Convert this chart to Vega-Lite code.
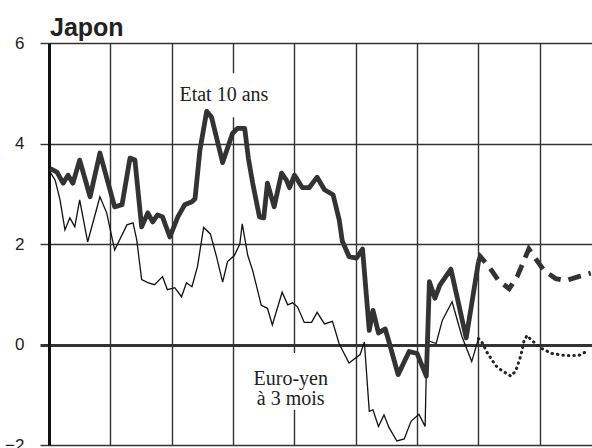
{
  "$schema": "https://vega.github.io/schema/vega-lite/v6.json",
  "width": 543,
  "height": 402,
  "autosize": {"type": "none"},
  "padding": {"left": 49, "top": 43, "right": 0, "bottom": 3},
  "background": "white",
  "title": {"text": "Japon", "anchor": "start", "frame": "group", "font": "Liberation Sans", "fontSize": 25, "fontWeight": "bold", "color": "#222", "offset": -7, "dx": 1},
  "config": {"view": {"stroke": null}},
  "datasets": {
    "series": [
      {"s": "e10", "t": 0.02, "v": 3.5}, {"s": "e10", "t": 0.13, "v": 3.43}, {"s": "e10", "t": 0.23, "v": 3.21}, {"s": "e10", "t": 0.31, "v": 3.37},
      {"s": "e10", "t": 0.39, "v": 3.21}, {"s": "e10", "t": 0.5, "v": 3.67}, {"s": "e10", "t": 0.67, "v": 2.94}, {"s": "e10", "t": 0.83, "v": 3.81},
      {"s": "e10", "t": 1.07, "v": 2.74}, {"s": "e10", "t": 1.19, "v": 2.78}, {"s": "e10", "t": 1.32, "v": 3.71}, {"s": "e10", "t": 1.4, "v": 3.67},
      {"s": "e10", "t": 1.51, "v": 2.34}, {"s": "e10", "t": 1.61, "v": 2.62}, {"s": "e10", "t": 1.69, "v": 2.44}, {"s": "e10", "t": 1.77, "v": 2.58},
      {"s": "e10", "t": 1.85, "v": 2.54}, {"s": "e10", "t": 1.97, "v": 2.14}, {"s": "e10", "t": 2.1, "v": 2.54}, {"s": "e10", "t": 2.21, "v": 2.78},
      {"s": "e10", "t": 2.33, "v": 2.84}, {"s": "e10", "t": 2.38, "v": 2.9}, {"s": "e10", "t": 2.46, "v": 3.87}, {"s": "e10", "t": 2.57, "v": 4.64},
      {"s": "e10", "t": 2.65, "v": 4.52}, {"s": "e10", "t": 2.83, "v": 3.62}, {"s": "e10", "t": 2.99, "v": 4.2}, {"s": "e10", "t": 3.07, "v": 4.3},
      {"s": "e10", "t": 3.19, "v": 4.3}, {"s": "e10", "t": 3.25, "v": 3.7}, {"s": "e10", "t": 3.32, "v": 3.21}, {"s": "e10", "t": 3.43, "v": 2.54},
      {"s": "e10", "t": 3.5, "v": 2.52}, {"s": "e10", "t": 3.56, "v": 3.21}, {"s": "e10", "t": 3.67, "v": 2.74}, {"s": "e10", "t": 3.79, "v": 3.41},
      {"s": "e10", "t": 3.87, "v": 3.27}, {"s": "e10", "t": 3.92, "v": 3.12}, {"s": "e10", "t": 4.0, "v": 3.37}, {"s": "e10", "t": 4.13, "v": 3.12},
      {"s": "e10", "t": 4.24, "v": 3.12}, {"s": "e10", "t": 4.37, "v": 3.33}, {"s": "e10", "t": 4.49, "v": 3.08}, {"s": "e10", "t": 4.63, "v": 2.98},
      {"s": "e10", "t": 4.73, "v": 2.48}, {"s": "e10", "t": 4.78, "v": 2.06}, {"s": "e10", "t": 4.89, "v": 1.75}, {"s": "e10", "t": 5.01, "v": 1.72},
      {"s": "e10", "t": 5.11, "v": 1.9}, {"s": "e10", "t": 5.22, "v": 0.28}, {"s": "e10", "t": 5.28, "v": 0.68}, {"s": "e10", "t": 5.37, "v": 0.23},
      {"s": "e10", "t": 5.48, "v": 0.31}, {"s": "e10", "t": 5.54, "v": 0.06}, {"s": "e10", "t": 5.69, "v": -0.6}, {"s": "e10", "t": 5.87, "v": -0.14},
      {"s": "e10", "t": 6.0, "v": -0.18}, {"s": "e10", "t": 6.15, "v": -0.63}, {"s": "e10", "t": 6.2, "v": 1.25}, {"s": "e10", "t": 6.29, "v": 0.92},
      {"s": "e10", "t": 6.37, "v": 1.18}, {"s": "e10", "t": 6.55, "v": 1.5}, {"s": "e10", "t": 6.8, "v": 0.13}, {"s": "e10", "t": 7.0, "v": 1.65},

      {"s": "e10f", "t": 7.0, "v": 1.65}, {"s": "e10f", "t": 7.03, "v": 1.75}, {"s": "e10f", "t": 7.17, "v": 1.55}, {"s": "e10f", "t": 7.33, "v": 1.27},
      {"s": "e10f", "t": 7.5, "v": 1.11}, {"s": "e10f", "t": 7.63, "v": 1.35}, {"s": "e10f", "t": 7.82, "v": 1.9}, {"s": "e10f", "t": 7.93, "v": 1.71},
      {"s": "e10f", "t": 8.07, "v": 1.47}, {"s": "e10f", "t": 8.26, "v": 1.31}, {"s": "e10f", "t": 8.42, "v": 1.27}, {"s": "e10f", "t": 8.63, "v": 1.35},
      {"s": "e10f", "t": 8.83, "v": 1.42},

      {"s": "ey", "t": 0.02, "v": 3.43}, {"s": "ey", "t": 0.1, "v": 3.27}, {"s": "ey", "t": 0.18, "v": 2.88}, {"s": "ey", "t": 0.26, "v": 2.28},
      {"s": "ey", "t": 0.34, "v": 2.52}, {"s": "ey", "t": 0.42, "v": 2.34}, {"s": "ey", "t": 0.5, "v": 2.88}, {"s": "ey", "t": 0.63, "v": 2.04},
      {"s": "ey", "t": 0.83, "v": 2.94}, {"s": "ey", "t": 0.94, "v": 2.62}, {"s": "ey", "t": 1.07, "v": 1.88}, {"s": "ey", "t": 1.27, "v": 2.38},
      {"s": "ey", "t": 1.37, "v": 2.42}, {"s": "ey", "t": 1.43, "v": 2.08}, {"s": "ey", "t": 1.51, "v": 1.29}, {"s": "ey", "t": 1.61, "v": 1.23},
      {"s": "ey", "t": 1.72, "v": 1.19}, {"s": "ey", "t": 1.85, "v": 1.35}, {"s": "ey", "t": 1.93, "v": 1.09}, {"s": "ey", "t": 2.05, "v": 1.13},
      {"s": "ey", "t": 2.16, "v": 0.95}, {"s": "ey", "t": 2.24, "v": 1.23}, {"s": "ey", "t": 2.33, "v": 1.15}, {"s": "ey", "t": 2.42, "v": 1.55},
      {"s": "ey", "t": 2.52, "v": 2.33}, {"s": "ey", "t": 2.63, "v": 2.2}, {"s": "ey", "t": 2.73, "v": 1.75}, {"s": "ey", "t": 2.83, "v": 1.24},
      {"s": "ey", "t": 2.91, "v": 1.65}, {"s": "ey", "t": 3.02, "v": 1.77}, {"s": "ey", "t": 3.11, "v": 2.0}, {"s": "ey", "t": 3.15, "v": 2.4},
      {"s": "ey", "t": 3.24, "v": 1.77}, {"s": "ey", "t": 3.32, "v": 1.47}, {"s": "ey", "t": 3.46, "v": 0.78}, {"s": "ey", "t": 3.56, "v": 0.72},
      {"s": "ey", "t": 3.64, "v": 0.39}, {"s": "ey", "t": 3.8, "v": 1.04}, {"s": "ey", "t": 3.89, "v": 0.79}, {"s": "ey", "t": 3.97, "v": 0.83},
      {"s": "ey", "t": 4.05, "v": 0.75}, {"s": "ey", "t": 4.16, "v": 0.44}, {"s": "ey", "t": 4.28, "v": 0.44}, {"s": "ey", "t": 4.37, "v": 0.64},
      {"s": "ey", "t": 4.49, "v": 0.41}, {"s": "ey", "t": 4.62, "v": 0.46}, {"s": "ey", "t": 4.73, "v": 0.01}, {"s": "ey", "t": 4.89, "v": -0.37},
      {"s": "ey", "t": 5.07, "v": -0.2}, {"s": "ey", "t": 5.14, "v": 0.05}, {"s": "ey", "t": 5.22, "v": -1.33}, {"s": "ey", "t": 5.28, "v": -1.3},
      {"s": "ey", "t": 5.37, "v": -1.63}, {"s": "ey", "t": 5.46, "v": -1.4}, {"s": "ey", "t": 5.54, "v": -1.65}, {"s": "ey", "t": 5.67, "v": -1.92},
      {"s": "ey", "t": 5.79, "v": -1.88}, {"s": "ey", "t": 5.9, "v": -1.53}, {"s": "ey", "t": 6.03, "v": -1.39}, {"s": "ey", "t": 6.13, "v": -1.63},
      {"s": "ey", "t": 6.16, "v": 0.08}, {"s": "ey", "t": 6.31, "v": 0.02}, {"s": "ey", "t": 6.41, "v": 0.48}, {"s": "ey", "t": 6.57, "v": 0.85},
      {"s": "ey", "t": 6.73, "v": 0.16}, {"s": "ey", "t": 6.89, "v": -0.34}, {"s": "ey", "t": 7.0, "v": 0.12},

      {"s": "eyf", "t": 7.0, "v": 0.12}, {"s": "eyf", "t": 7.07, "v": 0.02}, {"s": "eyf", "t": 7.13, "v": -0.14}, {"s": "eyf", "t": 7.28, "v": -0.42},
      {"s": "eyf", "t": 7.38, "v": -0.52}, {"s": "eyf", "t": 7.53, "v": -0.63}, {"s": "eyf", "t": 7.61, "v": -0.52}, {"s": "eyf", "t": 7.69, "v": -0.22},
      {"s": "eyf", "t": 7.74, "v": 0.06}, {"s": "eyf", "t": 7.79, "v": 0.18}, {"s": "eyf", "t": 7.87, "v": 0.08}, {"s": "eyf", "t": 8.03, "v": -0.08},
      {"s": "eyf", "t": 8.2, "v": -0.18}, {"s": "eyf", "t": 8.42, "v": -0.22}, {"s": "eyf", "t": 8.63, "v": -0.22}, {"s": "eyf", "t": 8.76, "v": -0.14}
    ],
    "labels": [
      {"t": 2.85, "v": 4.84, "label": "Etat 10 ans"},
      {"t": 3.94, "v": -0.8, "label": "Euro-yen"},
      {"t": 3.94, "v": -1.2, "label": "à 3 mois"}
    ],
    "boxes": [
      {"t": 2.08, "tEnd": 3.68, "v": 4.52, "vEnd": 5.4},
      {"t": 3.32, "tEnd": 4.55, "v": -0.17, "vEnd": -1.3}
    ]
  },
  "encoding": {
    "x": {
      "field": "t", "type": "quantitative",
      "scale": {"domain": [0, 8.85], "nice": false, "zero": false},
      "axis": {"values": [0, 1, 2, 3, 4, 5, 6, 7, 8], "grid": true, "gridColor": "#333", "gridWidth": 1.4, "labels": false, "ticks": false, "domain": false, "title": null}
    },
    "y": {
      "field": "v", "type": "quantitative",
      "scale": {"domain": [-2, 6], "nice": false, "zero": false},
      "axis": {
        "values": [-2, 0, 2, 4, 6], "grid": true, "gridColor": "#333",
        "gridWidth": {"condition": {"test": "datum.value === 0", "value": 3}, "value": 1.4},
        "tickSize": 9, "tickColor": "#333",
        "tickWidth": {"condition": {"test": "datum.value === 0", "value": 3}, "value": 1.4},
        "domain": true, "domainColor": "#111", "domainWidth": 3,
        "labelFont": "Liberation Sans", "labelFontSize": 17, "labelColor": "#222", "labelPadding": 16,
        "title": null
      }
    }
  },
  "layer": [
    {
      "data": {"name": "boxes"},
      "mark": {"type": "rect", "fill": "white", "stroke": null},
      "encoding": {"x2": {"field": "tEnd"}, "y2": {"field": "vEnd"}}
    },
    {
      "data": {"name": "series"},
      "transform": [{"filter": "datum.s === 'ey'"}],
      "mark": {"type": "line", "color": "#111", "strokeWidth": 1.3, "strokeJoin": "miter"},
      "encoding": {}
    },
    {
      "data": {"name": "series"},
      "transform": [{"filter": "datum.s === 'eyf'"}],
      "mark": {"type": "line", "color": "#222", "strokeWidth": 3, "strokeDash": [0.5, 5], "strokeCap": "round"},
      "encoding": {}
    },
    {
      "data": {"name": "series"},
      "transform": [{"filter": "datum.s === 'e10'"}],
      "mark": {"type": "line", "color": "#333", "strokeWidth": 4.8, "strokeJoin": "round"},
      "encoding": {}
    },
    {
      "data": {"name": "series"},
      "transform": [{"filter": "datum.s === 'e10f'"}],
      "mark": {"type": "line", "color": "#333", "strokeWidth": 4.8, "strokeDash": [13, 8]},
      "encoding": {}
    },
    {
      "data": {"name": "labels"},
      "mark": {"type": "text", "font": "Liberation Serif", "fontSize": 20, "color": "#222", "align": "center", "baseline": "alphabetic"},
      "encoding": {"text": {"field": "label"}}
    }
  ]
}
